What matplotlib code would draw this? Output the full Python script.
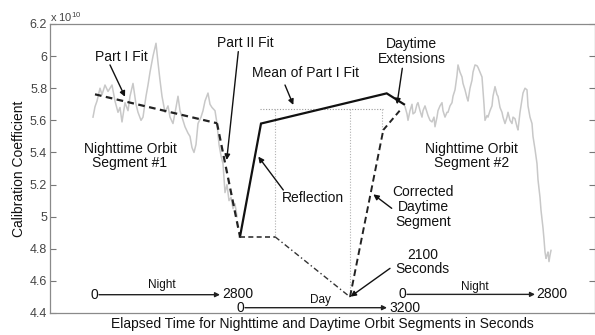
import matplotlib
matplotlib.use("Agg")
import matplotlib.pyplot as plt

plt.rcParams['font.family'] = ['Liberation Sans', 'DejaVu Sans']
plt.rcParams['mathtext.fontset'] = 'custom'
plt.rcParams['mathtext.rm'] = 'Liberation Sans'
plt.rcParams['mathtext.it'] = 'Liberation Sans'

# ---- data (x: horizontal plot position, y: calibration coefficient x 1e10) ----
night1_x = [43, 45, 47, 50, 52, 55, 58, 60, 62, 65, 68, 70, 72, 75, 78, 80, 83, 86, 88, 91,
            93, 96, 98, 100, 103, 106, 108, 110, 112, 115, 118, 120, 123, 126, 128, 130, 132,
            135, 138, 140, 142, 144, 146, 148, 151, 153, 155, 158, 160, 162, 165, 167, 169,
            171, 173, 175, 177, 179, 181, 183, 185, 187]
night1_y = [5.62, 5.685, 5.72, 5.80, 5.76, 5.82, 5.78, 5.80, 5.82, 5.72, 5.65, 5.68, 5.59,
            5.71, 5.66, 5.75, 5.83, 5.70, 5.65, 5.60, 5.62, 5.75, 5.82, 5.90, 6.00, 6.08,
            5.96, 5.85, 5.75, 5.65, 5.69, 5.62, 5.58, 5.68, 5.75, 5.66, 5.62, 5.56, 5.52,
            5.50, 5.43, 5.40, 5.45, 5.58, 5.62, 5.66, 5.72, 5.77, 5.70, 5.68, 5.66, 5.58,
            5.45, 5.38, 5.33, 5.15, 5.20, 5.10, 5.12, 5.05, 5.08, 5.00]

night2_x = [355, 357, 358, 360, 362, 363, 365, 367, 368, 370, 372, 373, 375, 377, 378, 380,
            382, 384, 385, 387, 388, 390, 392, 393, 395, 397, 398, 400, 402, 403, 405, 407,
            408, 410, 412, 413, 415, 417, 418, 420, 422, 423, 425, 427, 428, 430, 432, 434,
            435, 437, 438, 440, 442, 443, 445, 447, 448, 450, 452, 453, 455, 457, 458, 460,
            462, 463, 465, 467, 468, 470, 472, 473, 475, 477, 478, 480, 482, 483, 485, 487,
            488, 490, 491, 493, 494, 495, 496, 497, 498, 499, 500, 501]
night2_y = [5.685, 5.64, 5.60, 5.66, 5.70, 5.64, 5.65, 5.70, 5.71, 5.66, 5.62, 5.66, 5.69,
            5.65, 5.63, 5.60, 5.59, 5.62, 5.56, 5.62, 5.66, 5.69, 5.71, 5.66, 5.62, 5.65,
            5.65, 5.69, 5.71, 5.75, 5.79, 5.88, 5.945, 5.90, 5.87, 5.83, 5.79, 5.74, 5.72,
            5.80, 5.85, 5.90, 5.945, 5.94, 5.93, 5.90, 5.87, 5.70, 5.60, 5.63, 5.62, 5.66,
            5.69, 5.75, 5.81, 5.76, 5.75, 5.68, 5.65, 5.62, 5.58, 5.62, 5.65, 5.60, 5.58,
            5.62, 5.61, 5.56, 5.54, 5.65, 5.73, 5.77, 5.80, 5.79, 5.69, 5.62, 5.58, 5.50,
            5.42, 5.33, 5.23, 5.12, 5.04, 4.93, 4.86, 4.78, 4.74, 4.76, 4.78, 4.72, 4.76, 4.79]

part1_x = [45, 167]
part1_y = [5.762, 5.582]
part2_x = [167, 190]
part2_y = [5.582, 4.875]
reflect_x = [190, 211, 336.7, 354]
reflect_y = [4.875, 5.58, 5.768, 5.70]
mean_x = [210, 333]
mean_y = [5.672, 5.672]
vdot_x = [225, 300, 331.7]
vdot_bottom = [4.875, 4.50, 5.54]
flat_x = [190, 225]
flat_y = [4.875, 4.875]
descend_x = [225, 300]
descend_y = [4.875, 4.50]
ascend_x = [300, 333.3]
ascend_y = [4.50, 5.54]
ext_x = [333.3, 351.7]
ext_y = [5.54, 5.675]

yticks = [4.4, 4.6, 4.8, 5, 5.2, 5.4, 5.6, 5.8, 6, 6.2]
ytick_labels = ['4.4', '4.6', '4.8', '5', '5.2', '5.4', '5.6', '5.8', '6', '6.2']

# ---- figure ----
fig = plt.figure(figsize=(5.95, 3.35), dpi=100)
ax = fig.add_axes([50/595, 1-313/335, 545/595, 289/335])
ax.set_xlim(0, 545)
ax.set_ylim(4.4, 6.2)

ax.plot(night1_x, night1_y, color='#c8c8c8', lw=1.1)
ax.plot(night2_x, night2_y, color='#c8c8c8', lw=1.1)

ax.plot(mean_x, mean_y, color='#9a9a9a', lw=0.8, ls=(0, (1, 1.5)))
for xv, yb in zip(vdot_x, vdot_bottom):
    ax.plot([xv, xv], [mean_y[0], yb], color='#b0b0b0', lw=0.8, ls=(0, (1, 1.5)))

ax.plot(part1_x, part1_y, color='#222222', lw=1.6, ls=(0, (3, 2)))
ax.plot(part2_x, part2_y, color='#222222', lw=1.6, ls=(0, (3, 2)))
ax.plot(reflect_x, reflect_y, color='#111111', lw=1.6, solid_joinstyle='miter')
ax.plot(flat_x, flat_y, color='#333333', lw=1.2, ls=(0, (3, 2)))
ax.plot(descend_x, descend_y, color='#333333', lw=1.0, ls=(0, (4, 2, 1, 2)))
ax.plot(ascend_x, ascend_y, color='#222222', lw=1.4, ls=(0, (3.5, 2)))
ax.plot(ext_x, ext_y, color='#222222', lw=1.4, ls=(0, (3, 2)))

fs = 10
arrow = dict(arrowstyle='-|>', color='#111111', lw=1.0, mutation_scale=8,
             shrinkA=0, shrinkB=0)

def label(x, y, s, size=fs, **kw):
    ax.text(x, y, s, ha='center', va='center', fontsize=size, color='#111111',
            linespacing=1.05, **kw)

def arr(x0, y0, x1, y1):
    ax.annotate('', xy=(x1, y1), xytext=(x0, y0), arrowprops=arrow)

label(71, 5.996, 'Part I Fit')
arr(60, 5.945, 75, 5.747)
label(195, 6.080, 'Part II Fit')
arr(188.3, 6.028, 176.7, 5.353)
label(255, 5.897, 'Mean of Part I Fit')
arr(235, 5.820, 243.3, 5.696)
label(361.7, 6.030, 'Daytime\nExtensions')
arr(352.3, 5.924, 347, 5.700)
label(80, 5.378, 'Nighttime Orbit\nSegment #1')
label(421.7, 5.378, 'Nighttime Orbit\nSegment #2')
label(263.3, 5.114, 'Reflection')
arr(233.3, 5.166, 208.3, 5.374)
label(373.3, 5.060, 'Corrected\nDaytime\nSegment')
arr(341.7, 5.052, 323.3, 5.139)
label(372.7, 4.719, '2100\nSeconds')
arr(340, 4.678, 300.5, 4.502)

# time axis arrows
tarrow = dict(arrowstyle='-|>', color='#222222', lw=1.0, mutation_scale=7,
              shrinkA=0, shrinkB=0)
def tline(x0, x1, y):
    ax.annotate('', xy=(x1, y), xytext=(x0, y), arrowprops=tarrow)

ax.text(44.3, 4.514, '0', ha='center', va='center', fontsize=fs, color='#111111')
tline(49, 170, 4.514)
ax.text(172, 4.516, '2800', ha='left', va='center', fontsize=fs, color='#111111')
label(111.7, 4.574, 'Night', size=8.5)

ax.text(190, 4.433, '0', ha='center', va='center', fontsize=fs, color='#111111')
tline(195, 337, 4.433)
ax.text(339, 4.433, '3200', ha='left', va='center', fontsize=fs, color='#111111')
label(270, 4.481, 'Day', size=8.5)

ax.text(352.3, 4.516, '0', ha='center', va='center', fontsize=fs, color='#111111')
tline(357, 485, 4.516)
ax.text(486.7, 4.516, '2800', ha='left', va='center', fontsize=fs, color='#111111')
label(425, 4.560, 'Night', size=8.5)

# axes styling
ax.set_yticks(yticks)
ax.set_yticklabels(ytick_labels)
ax.set_xticks([])
ax.tick_params(axis='y', direction='in', length=4, width=0.8, color='#777777',
               labelsize=9, labelcolor='#444444', right=True, pad=2)
for sp in ax.spines.values():
    sp.set_color('#8a8a8a')
    sp.set_linewidth(0.9)
ax.set_ylabel('Calibration Coefficient', fontsize=10, color='#111111', labelpad=3)
ax.set_xlabel('Elapsed Time for Nighttime and Daytime Orbit Segments in Seconds',
              fontsize=10, color='#111111', labelpad=3)
fig.text(50/595, 1-17/335, r'x 10$^{10}$', ha='left', va='center', fontsize=8,
         color='#444444')

fig.savefig('out.png', dpi=100)
